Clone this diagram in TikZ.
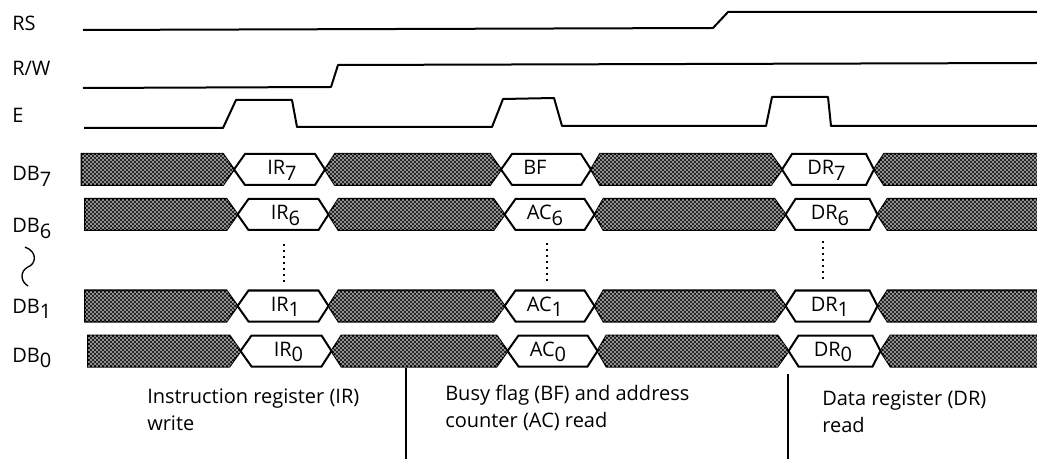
\documentclass[tikz,border=0pt]{standalone}
\usepackage{fontspec}
\setmainfont{Open Sans}
\usepackage{tikz}
\usetikzlibrary{patterns, calc}
\newcommand{\lowsub}[1]{\raisebox{-0.5ex}{#1}}
\pgfdeclarepatternformonly{busdots}{\pgfqpoint{-1pt}{-1pt}}{\pgfqpoint{4pt}{4pt}}{\pgfqpoint{3pt}{3pt}}{%
   \pgfpathcircle{\pgfqpoint{0.75pt}{0.75pt}}{0.6pt}
   \pgfpathcircle{\pgfqpoint{2.25pt}{2.25pt}}{0.6pt}
   \pgfusepath{fill}}

\begin{document}
\begin{tikzpicture}[
      x=0.75pt, y=-0.75pt,
      wave/.style={draw=black, line width=1.5pt, line join=round},
      busdata/.style={
         draw=black,
         line width=1.5pt,
         fill=black!85,
         postaction={pattern=busdots, pattern color=white}},
      buspath/.style={draw=black, line width=1.5pt, fill=white},
      sigtext/.style={anchor=base west, inner sep=0pt, font=\fontsize{15}{17}\selectfont},
      valtext/.style={anchor=base west, inner sep=0pt, font=\fontsize{15}{17}\selectfont},
      captext/.style={anchor=base west, inner sep=0pt, font=\fontsize{15}{17}\selectfont},
      dotline/.style={draw=black, line width=1.5pt, dash pattern=on 1.5pt off 3pt},
      sepline/.style={draw=black, line width=1.2pt}
      ]
      \useasboundingbox (0,0) rectangle (1037,459);

      % signal names
      \foreach \i/\y/\txt in {%
         rs/31/RS,
         rw/76/{R/W},
         e/123/E,
         dbs7/181/DB\lowsub{7},
         dbs6/233/DB\lowsub{6},
         dbs1/313/DB\lowsub{1},
         dbs0/362/DB\lowsub{0}}
         \node[sigtext] (\i) at (12,\y) {\txt};

      \draw[wave] (83,30) -- (713,28) -- (728,12) -- (1037,12);
      \draw[wave] (83,88) -- (331,87) -- (338,65) -- (1037,63);
      \draw[wave] (84,128) -- (223,128) -- (236,100) -- (292,100) -- (297,127) -- (492,127)
         -- (503,99) -- (554,98) -- (562,126) -- (766,126) -- (772,97) -- (828,97)
         -- (831,126) -- (1037,126);

      % one bus per row: name/centre/shift/bit/middle text
      \foreach \r/\yc/\dx/\b/\mid in {%
         7/169.5/0/7/BF,
         6/214.5/3.5/6/AC\lowsub{6},
         1/306/3.5/1/AC\lowsub{1},
         0/351/6.5/0/AC\lowsub{0}}
      {
         \pgfmathsetmacro{\xend}{1037-\dx}
         \begin{scope}[shift={(\dx,\yc)}]
            \path[busdata] (81.5,-15.5) -- (223,-15.5) -- (234,0) -- (223,15.5) -- (81.5,15.5) -- cycle;
            \path[busdata] (325,0) -- (335,-15.5) -- (490,-15.5) -- (501,0) -- (490,15.5) -- (335,15.5) -- cycle;
            \path[busdata] (591,0) -- (600,-15.5) -- (771,-15.5) -- (782,0) -- (771,15.5) -- (600,15.5) -- cycle;
            \path[busdata] (\xend,-15.5) -- (884,-15.5) -- (874,0) -- (884,15.5) -- (\xend,15.5);
            \path[buspath] (234,0) -- (245,-15.5) -- (315,-15.5) -- (325,0) -- (315,15.5) -- (245,15.5) -- cycle;
            \path[buspath] (501,0) -- (512,-15.5) -- (581,-15.5) -- (591,0) -- (581,15.5) -- (512,15.5) -- cycle;
            \path[buspath] (782,0) -- (792,-15.5) -- (866,-15.5) -- (874,0) -- (866,15.5) -- (792,15.5) -- cycle;
            \node[valtext] (ir\r) at (267,5.5) {IR\lowsub{\b}};
            \node[valtext] (ac\r) at (523,5.5) {\mid};
            \node[valtext] (dr\r) at (807,5.5) {DR\lowsub{\b}};
         \end{scope}
      }

      % gap between DB6 and DB1
      \foreach \i/\x/\ya/\yb in {a/284/244/284, b/547/243/282, c/823/241/281}
      {
         \coordinate (dot\i top) at (\x,\ya);
         \coordinate (dot\i bot) at (\x,\yb);
         \draw[dotline] (dot\i top) -- (dot\i bot);
      }
      \coordinate (sqtop) at (25,247);
      \coordinate (sqbot) at (28,286);
      \draw[line width=1pt] (sqtop) .. controls (38,252) and (36,264) .. (28,267)
         .. controls (20,271) and (20,281) .. (sqbot);

      \node[captext] (capa) at (147,403) {Instruction register (IR)};
      \node[captext] (capb) at (147,430) {write};
      \node[captext] (capc) at (445,400) {Busy flag (BF) and address};
      \node[captext] (capd) at (445,427) {counter (AC) read};
      \node[captext] (cape) at (822,405) {Data register (DR)};
      \node[captext] (capf) at (822,432) {read};

      \coordinate (sepa) at (406,459);
      \coordinate (sepb) at (788,459);
      \draw[sepline] (406,368) -- (sepa);
      \draw[sepline] (788,374) -- (sepb);
    \end{tikzpicture}
\end{document}
